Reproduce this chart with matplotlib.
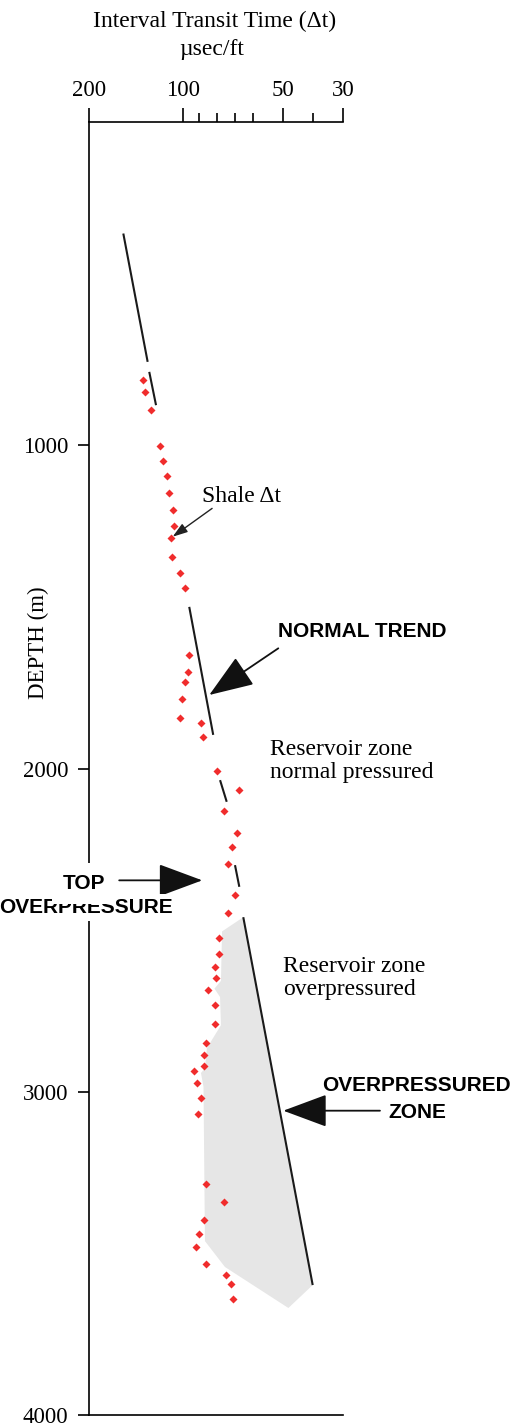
import numpy as np
import matplotlib.pyplot as plt
from matplotlib.ticker import FixedLocator, NullFormatter

plt.rcParams['font.family'] = ['Liberation Serif', 'DejaVu Serif']

# drawn scale of the transit time axis (value -> relative position)
scale_vals = [30, 40, 50, 60, 70, 80, 90, 100, 200]
scale_pos = [343, 313, 283, 253, 235, 217, 199, 183, 89]

major_ticks = [200, 100, 50, 30]
minor_ticks = [90, 80, 70, 60, 40]
depth_ticks = [1000, 2000, 3000, 4000]

# shale interval transit time (usec/ft) vs depth (m)
shale_dt = [143, 140, 134, 124, 121, 117, 115, 111, 110, 113, 112, 103, 99,
            96, 97, 99, 101, 103, 89, 88, 80, 68, 76, 69, 71.5, 74, 70, 74,
            79, 79, 81, 80.5, 85, 81, 81, 86, 87, 87, 93, 91, 89, 90.5,
            86, 76, 87, 90, 92, 86, 75, 72, 71]
shale_depth = [798, 836, 891, 1001, 1049, 1094, 1147, 1200, 1249, 1286, 1347, 1396, 1441,
               1649, 1700, 1733, 1785, 1843, 1860, 1902, 2007, 2067, 2131, 2199, 2244, 2295, 2391, 2448,
               2523, 2575, 2613, 2649, 2685, 2732, 2790, 2848, 2886, 2919, 2936, 2974, 3020, 3070,
               3285, 3341, 3397, 3439, 3479, 3532, 3567, 3595, 3642]

# normal compaction trend, drawn as broken pieces
trend_dt_top = [163.5, 135.9, 96.1, 78.3, 70.0, 65.4]
trend_dt_bot = [137.6, 128.7, 82.1, 74.6, 67.6, 40.1]
trend_depth_top = [345, 773, 1500, 2036, 2299, 2460]
trend_depth_bot = [742, 876, 1896, 2103, 2366, 3598]

# shaded overpressured zone outline
zone_dt = [65.4, 77.2, 77.8, 81.4, 78.3, 77.8, 85.6, 86.7, 88.9, 87.5, 86.7, 75.6, 48.2, 40.1]
zone_depth = [2460, 2504, 2657, 2681, 2707, 2794, 2865, 2927, 2942, 2985, 3462, 3542, 3669, 3598]

_pos_asc = scale_pos[::-1]
_val_for_pos = scale_vals[::-1]


def forward(x):
    # increasing with x, so the axis can be inverted like a log axis
    return -np.interp(x, scale_vals, scale_pos)


def inverse(p):
    return np.interp(-np.asarray(p), _pos_asc, _val_for_pos)


fig = plt.figure(figsize=(5.16, 14.27), dpi=100)
ax = fig.add_axes([89/516, 12/1427, 254/516, 1293/1427])
ax.set_xscale('function', functions=(forward, inverse))
ax.set_xlim(200, 30)
ax.set_ylim(4000, 0)

ax.fill(zone_dt, zone_depth, color='#e6e6e6', lw=0, zorder=1)
for x0, x1, y0, y1 in zip(trend_dt_top, trend_dt_bot, trend_depth_top, trend_depth_bot):
    ax.plot([x0, x1], [y0, y1], color='#1a1a1a', lw=1.5, solid_capstyle='butt', zorder=2)
ax.plot(shale_dt, shale_depth, ls='none', marker='D', ms=3.9, color='#f02c2c',
        mec='none', zorder=3)

# axes styling
ax.spines['right'].set_visible(False)
for s in ['left', 'top', 'bottom']:
    ax.spines[s].set_linewidth(1.2)
ax.xaxis.tick_top()
ax.xaxis.set_major_locator(FixedLocator(major_ticks))
ax.xaxis.set_minor_locator(FixedLocator(minor_ticks))
ax.xaxis.set_minor_formatter(NullFormatter())
ax.set_xticklabels([str(v) for v in major_ticks])
ax.tick_params(axis='x', which='major', length=10, width=1.2, pad=5, labelsize=16.5)
ax.tick_params(axis='x', which='minor', length=6.5, width=1.2)
ax.set_yticks(depth_ticks)
ax.tick_params(axis='y', length=8, width=1.2, pad=7, labelsize=16.5)

fig.text(214.5/516, 1 - 27/1427, 'Interval Transit Time (\u0394t)', ha='center',
         va='baseline', fontsize=17)
fig.text(212/516, 1 - 55/1427, '\u00b5sec/ft', ha='center', va='baseline', fontsize=17)
fig.text(38/516, 1 - 643/1427, 'DEPTH (m)', rotation=90, ha='center', va='center',
         fontsize=16.5)

sans = dict(family=['Liberation Sans', 'DejaVu Sans'], fontweight='bold', fontsize=15)

fig.text(202/516, 1 - 501.7/1427, 'Shale \u0394t', ha='left', va='baseline', fontsize=17)
fig.text(278/516, 1 - 637.3/1427, 'NORMAL TREND', ha='left', va='baseline', **sans)
fig.text(270/516, 1 - 755/1427, 'Reservoir zone', ha='left', va='baseline', fontsize=17)
fig.text(270/516, 1 - 778/1427, 'normal pressured', ha='left', va='baseline', fontsize=17)
fig.text(283.3/516, 1 - 971.7/1427, 'Reservoir zone', ha='left', va='baseline', fontsize=17)
fig.text(283.3/516, 1 - 995/1427, 'overpressured', ha='left', va='baseline', fontsize=17)
fig.text(416.7/516, 1 - 1091/1427, 'OVERPRESSURED', ha='center', va='baseline', **sans)
fig.text(417/516, 1 - 1118.3/1427, 'ZONE', ha='center', va='baseline', **sans)
fig.text(86/516, 1 - 913.3/1427, 'OVERPRESSURE', ha='center', va='baseline', zorder=5,
         bbox=dict(fc='white', ec='none', pad=3), **sans)
fig.text(84/516, 1 - 889.3/1427, 'TOP', ha='center', va='baseline', zorder=5,
         bbox=dict(fc='white', ec='none', pad=8), **sans)

big_head = dict(arrowstyle='-|>,head_length=1.4,head_width=0.52', mutation_scale=20,
                color='#111111', lw=1.3, shrinkA=0, shrinkB=0)
ax.annotate('', xy=(111, 1283), xytext=(28.4, 20.4), textcoords='offset points',
            arrowprops=dict(arrowstyle='-|>,head_length=0.9,head_width=0.3',
                            mutation_scale=10, color='#222222', lw=1.0,
                            shrinkA=0, shrinkB=0))
ax.annotate('', xy=(84.3, 1772.6), xytext=(49.7, 33.6), textcoords='offset points',
            arrowprops=big_head)
ax.annotate('', xy=(88.2, 2346), xytext=(-59.8, 0), textcoords='offset points',
            arrowprops=big_head, annotation_clip=False)
ax.annotate('', xy=(49.9, 3058.6), xytext=(69.6, 0), textcoords='offset points',
            arrowprops=big_head, annotation_clip=False)

fig.savefig('out.png', dpi=100)
